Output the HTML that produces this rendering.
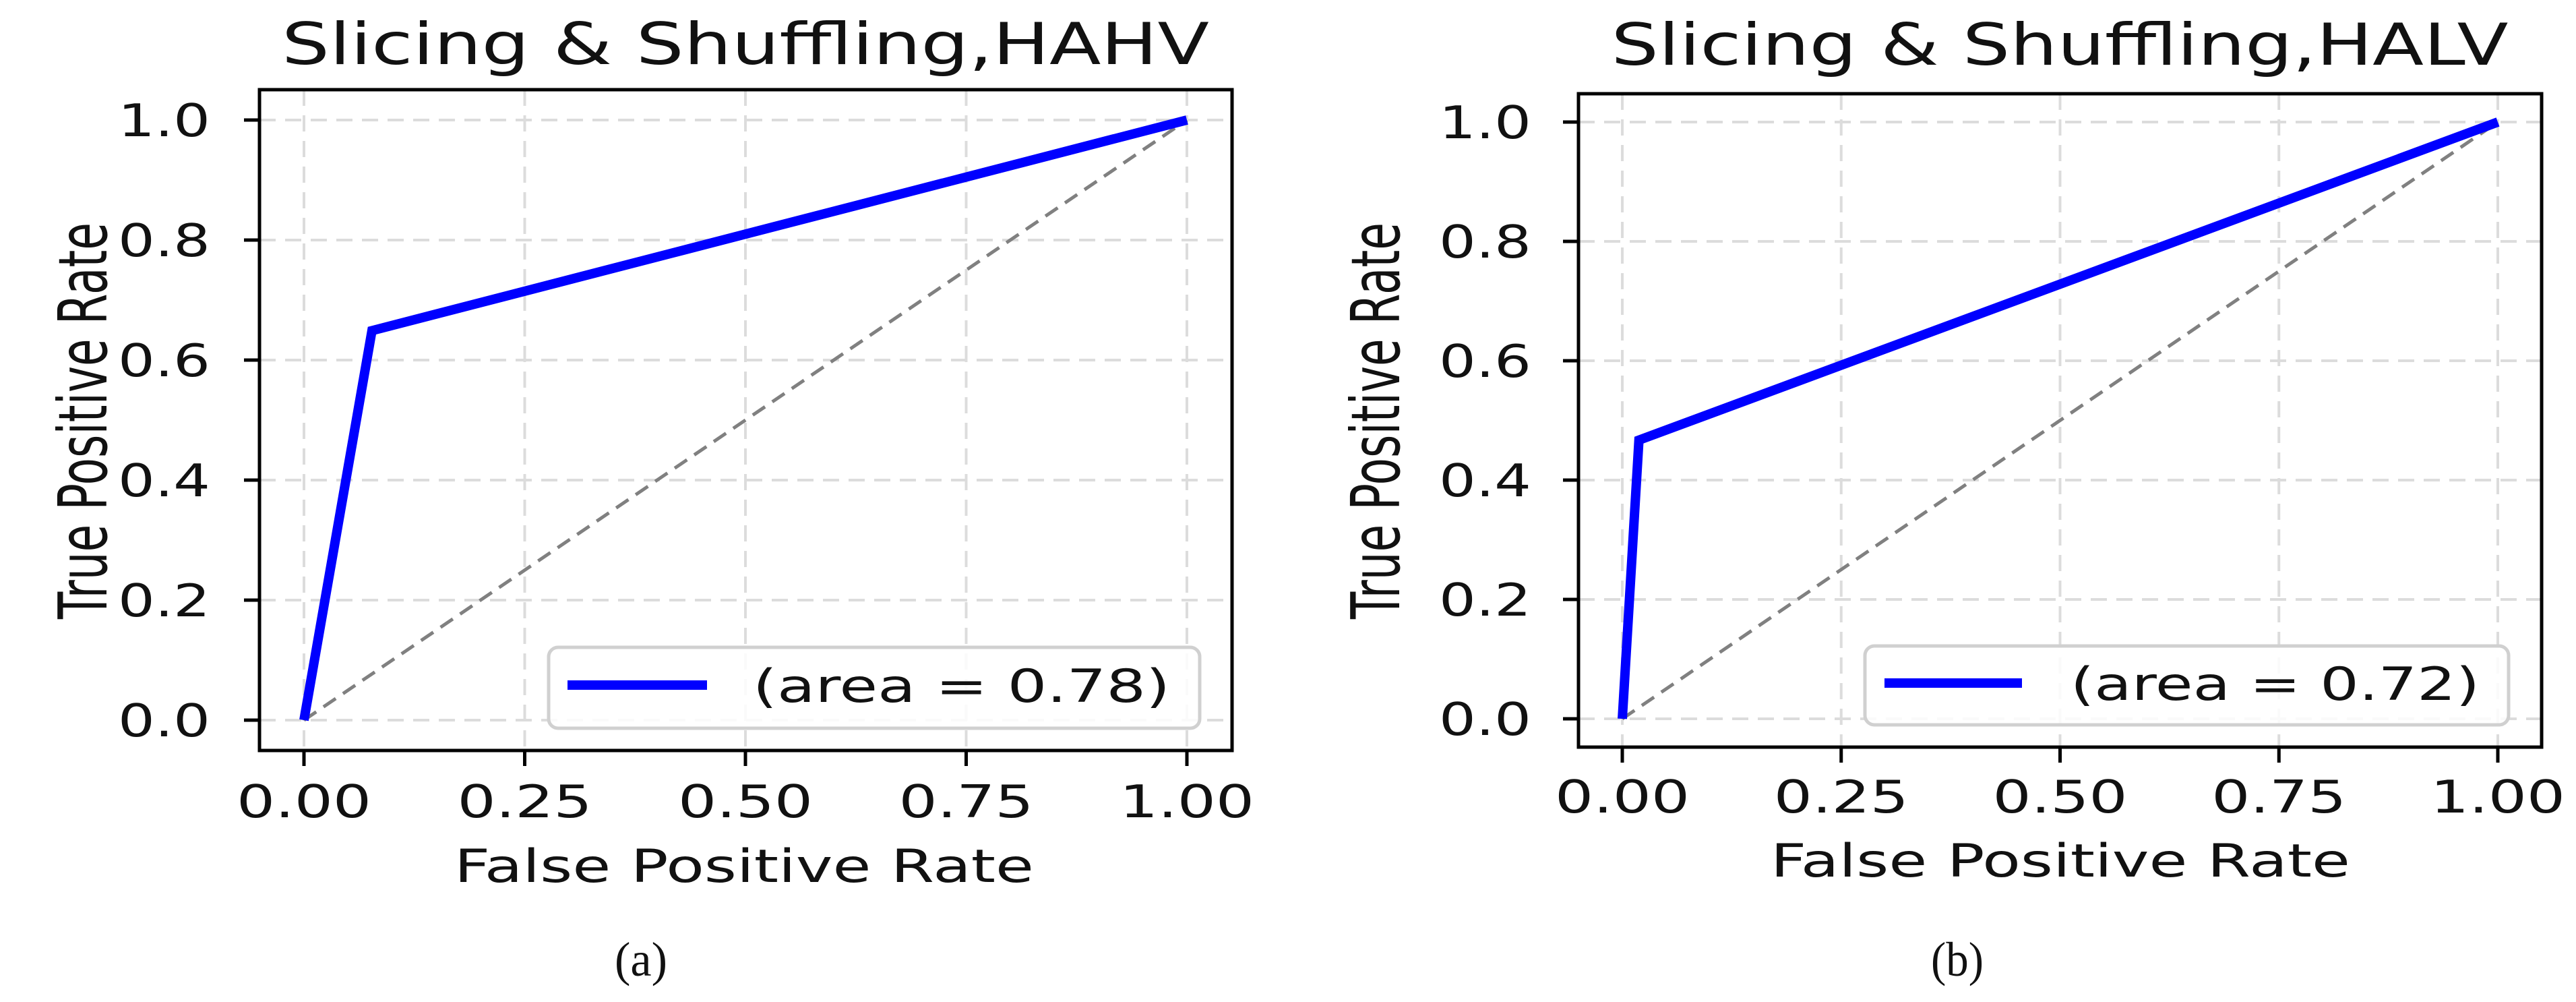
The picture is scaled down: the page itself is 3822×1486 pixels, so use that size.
<!DOCTYPE html>
<html><head><meta charset="utf-8"><style>
html,body{margin:0;padding:0;background:#fff;}
svg{display:block;}
text{font-family:"DejaVu Sans","Liberation Sans",sans-serif;fill:#111;}
</style></head><body>
<svg id="fig" width="3822" height="1486" viewBox="0 0 3822 1486"></svg>
<script>
const xTicks=[0,0.25,0.5,0.75,1];
const xTickLabels=["0.00","0.25","0.50","0.75","1.00"];
const yTicks=[0,0.2,0.4,0.6,0.8,1.0];
const yTickLabels=["0.0","0.2","0.4","0.6","0.8","1.0"];
const fprA=[0,0.077,1];
const tprA=[0,0.649,1];
const fprB=[0,0.019,1];
const tprB=[0,0.467,1];
const titles=["Slicing & Shuffling,HAHV","Slicing & Shuffling,HALV"];
const legendLabels=["(area = 0.78)","(area = 0.72)"];
const captions=["(a)","(b)"];

const NS="http://www.w3.org/2000/svg";
const svg=document.getElementById('fig');
function mk(tag,attrs,parent){const e=document.createElementNS(NS,tag);for(const k in attrs)e.setAttribute(k,attrs[k]);(parent||svg).appendChild(e);return e;}
function txt(parent,x,y,s,size,len,anchor,extra){
 const a=Object.assign({x:x,y:y,'font-size':size,'text-anchor':anchor||'start'},extra||{});
 if(len){a.textLength=len;a.lengthAdjust='spacingAndGlyphs';}
 const t=mk('text',a,parent);t.textContent=s;return t;
}

const panels=[
 {box:[385,133,1828,1113],x0:451,x1:1761,y0:1068,y1:178,fpr:fprA,tpr:tprA,
  title:[1106,95,1376],ytr:312,yl:[158,624],xl:[1104,1308],xtb:1212,
  leg:[814,960,1780,1080],ll:[842,1049,1016],lt:[1117,619],cap:[951,1447]},
 {box:[2342,139,3771,1108],x0:2407,x1:3706,y0:1066,y1:181,fpr:fprB,tpr:tprB,
  title:[3056,96,1331],ytr:2272,yl:[2076,624],xl:[3057,1300],xtb:1205,
  leg:[2767,958,3722,1075],ll:[2796,3000,1013],lt:[3072,607],cap:[2904,1447]}
];
panels.forEach((p,i)=>{
 const g=mk('g',{});
 
 
 const sx=v=>p.x0+(p.x1-p.x0)*v, sy=v=>p.y0+(p.y1-p.y0)*v;
 const [L,T,R,B]=p.box;
 xTicks.forEach((v,k)=>{
  const l=mk('line',{x1:sx(v),x2:sx(v),y1:T,y2:B,stroke:'#dcdcdc','stroke-width':4,'stroke-dasharray':'24,14'},g);
  
  
  mk('line',{x1:sx(v),x2:sx(v),y1:B,y2:B+23,stroke:'#000','stroke-width':5},g);
  const t=txt(g,sx(v),p.xtb,xTickLabels[k],67,200,'middle');
  
  
 });
 yTicks.forEach((v,k)=>{
  const l=mk('line',{x1:L,x2:R,y1:sy(v),y2:sy(v),stroke:'#dcdcdc','stroke-width':4,'stroke-dasharray':'24,14'},g);
  
  
  mk('line',{x1:L-23,x2:L,y1:sy(v),y2:sy(v),stroke:'#000','stroke-width':5},g);
  const t=txt(g,p.ytr,sy(v)+24,yTickLabels[k],67,137,'end');
  
  
 });
 const d=mk('line',{x1:sx(0),y1:sy(0),x2:sx(1),y2:sy(1),stroke:'#808080','stroke-width':5,'stroke-dasharray':'22,13'},g);
 
 
 const pts=p.fpr.map((f,k)=>sx(f)+','+sy(p.tpr[k])).join(' ');
 const pl=mk('polyline',{points:pts,fill:'none',stroke:'#0000ff','stroke-width':14,'stroke-linejoin':'miter'},g);
 
 
 const bx=mk('rect',{x:L,y:T,width:R-L,height:B-T,fill:'none',stroke:'#000','stroke-width':5},g);
 
 
 const [a,b,c,e]=p.leg;
 const lg=mk('rect',{x:a,y:b,width:c-a,height:e-b,rx:14,fill:'#fff','fill-opacity':0.85,stroke:'#d0d0d0','stroke-width':5},g);
 
 
 mk('line',{x1:p.ll[0],x2:p.ll[1],y1:p.ll[2],y2:p.ll[2],stroke:'#0000ff','stroke-width':14},g);
 const lt=txt(g,p.lt[0],p.ll[2]+25,legendLabels[i],68,p.lt[1],'start');
 
 
 const tt=txt(g,p.title[0],p.title[1],titles[i],86,p.title[2],'middle');
 
 
 const xl=txt(g,p.xl[0],p.xl[1],'False Positive Rate',68,860,'middle');
 
 
 const cy=p.yl[1];
 const yl=mk('text',{x:p.yl[0],y:cy,'font-size':100,'text-anchor':'middle',transform:`rotate(-90 ${p.yl[0]} ${cy})`,textLength:588,lengthAdjust:'spacingAndGlyphs'},g);
 yl.textContent='True Positive Rate';
 
 
 const cp=txt(g,p.cap[0],p.cap[1],captions[i],72,78,'middle',{style:'font-family:"Liberation Serif",serif'});
 
 
});
</script>
</body></html>
